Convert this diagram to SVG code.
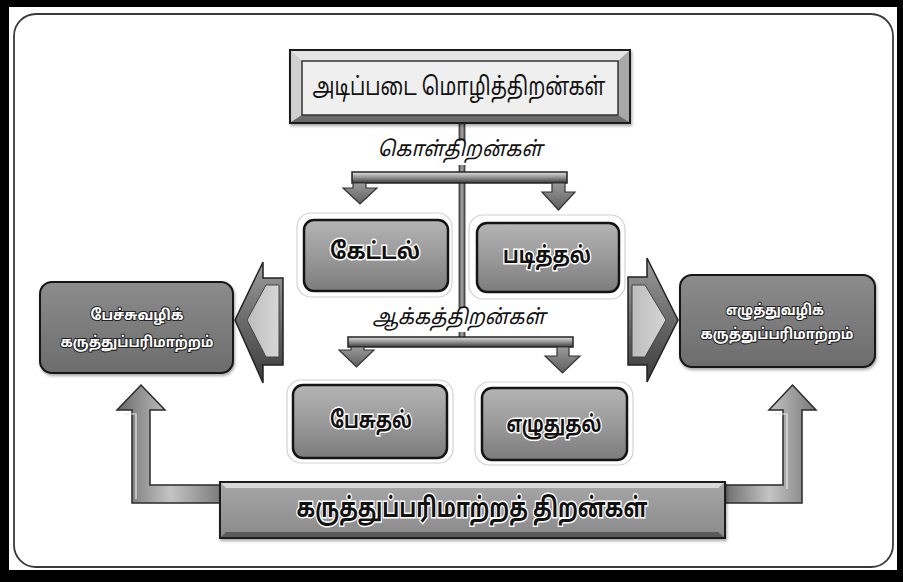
<svg xmlns="http://www.w3.org/2000/svg" width="903" height="582" viewBox="0 0 903 582">
  <defs>
    <linearGradient id="boxFill" x1="0" y1="0" x2="0" y2="1">
      <stop offset="0" stop-color="#b4b4b4"/>
      <stop offset="0.5" stop-color="#9a9a9a"/>
      <stop offset="1" stop-color="#7c7c7c"/>
    </linearGradient>
    <linearGradient id="sideFill" x1="0" y1="0" x2="0" y2="1">
      <stop offset="0" stop-color="#8c8c8c"/>
      <stop offset="1" stop-color="#6c6c6c"/>
    </linearGradient>
    <linearGradient id="barFill" x1="0" y1="0" x2="0" y2="1">
      <stop offset="0" stop-color="#e2e2e2"/>
      <stop offset="0.45" stop-color="#9a9a9a"/>
      <stop offset="1" stop-color="#3c3c3c"/>
    </linearGradient>
    <linearGradient id="stemFill" x1="0" y1="0" x2="1" y2="0">
      <stop offset="0" stop-color="#4a4a4a"/>
      <stop offset="0.5" stop-color="#a8a8a8"/>
      <stop offset="1" stop-color="#4a4a4a"/>
    </linearGradient>
    <linearGradient id="downFill" x1="0" y1="0" x2="0" y2="1">
      <stop offset="0" stop-color="#9a9a9a"/>
      <stop offset="1" stop-color="#5e5e5e"/>
    </linearGradient>
    <linearGradient id="chevOuter" x1="0" y1="0" x2="0" y2="1">
      <stop offset="0" stop-color="#9c9c9c"/>
      <stop offset="0.5" stop-color="#6a6a6a"/>
      <stop offset="1" stop-color="#3a3a3a"/>
    </linearGradient>
    <linearGradient id="chevInner" x1="0" y1="0" x2="1" y2="0">
      <stop offset="0" stop-color="#bdbdbd"/>
      <stop offset="1" stop-color="#d6d6d6"/>
    </linearGradient>
    <linearGradient id="upFill" x1="0" y1="0" x2="1" y2="0">
      <stop offset="0" stop-color="#6a6a6a"/>
      <stop offset="0.5" stop-color="#c4c4c4"/>
      <stop offset="1" stop-color="#777777"/>
    </linearGradient>
    <linearGradient id="bottomFill" x1="0" y1="0" x2="0" y2="1">
      <stop offset="0" stop-color="#a6a6a6"/>
      <stop offset="1" stop-color="#8a8a8a"/>
    </linearGradient>
    <filter id="shadow" x="-10%" y="-10%" width="120%" height="130%">
      <feDropShadow dx="1" dy="2" stdDeviation="1.5" flood-color="#000" flood-opacity="0.35"/>
    </filter>
  </defs>
  <style>
    text { text-anchor: middle; dominant-baseline: central; font-family: "Noto Sans Tamil", "Noto Sans", "Liberation Sans", sans-serif; }
    .title { font-size: 25px; fill: #111; }
    .label { font-size: 21px; font-style: italic; fill: #111; }
    .mid { font-size: 23px; font-weight: bold; fill: #111; stroke: #fff; stroke-width: 3; paint-order: stroke; }
    .side { font-size: 15px; font-weight: bold; fill: #fff; stroke: #222; stroke-width: 2.2; paint-order: stroke; }
    .big { font-size: 27px; font-weight: bold; fill: #111; stroke: #fff; stroke-width: 3; paint-order: stroke; }
    .halo { fill: #fff; stroke: #d2d2d2; stroke-width: 1.2; }
    .face { fill: url(#boxFill); stroke: #141414; stroke-width: 2.5; }
    .sideface { fill: url(#sideFill); stroke: #141414; stroke-width: 2; }
    .bar { fill: url(#barFill); stroke: #222; stroke-width: 1.5; }
    .down { fill: url(#downFill); stroke: #333; stroke-width: 1.2; }
    .chev { fill: url(#chevOuter); stroke: #222; stroke-width: 1.5; }
    .chevin { fill: url(#chevInner); stroke: #444; stroke-width: 1; }
    .up { fill: url(#upFill); stroke: #2a2a2a; stroke-width: 1.5; }
  </style>

  <!-- page frame -->
  <rect x="0" y="0" width="903" height="582" fill="#000"/>
  <rect x="9" y="7" width="888" height="563" fill="#fff"/>
  <rect x="14" y="14" width="879" height="553" rx="22" fill="#fff" stroke="#3a3a3a" stroke-width="1.8"/>

  <!-- connectors -->
  <g id="connectors">
    <!-- central trunk -->
    <rect x="459" y="122" width="6" height="216" fill="url(#stemFill)" stroke="#333" stroke-width="0.8"/>
    <!-- receptive skills branch -->
    <rect class="bar" x="352" y="172" width="215" height="11"/>
    <polygon class="down" points="353,183 366,183 366,188 377,188 360,204 343,188 353,188"/>
    <polygon class="down" points="552,183 565,183 565,192 575,192 558.5,210 542,192 552,192"/>
    <!-- productive skills branch -->
    <rect class="bar" x="348" y="337" width="225" height="10"/>
    <polygon class="down" points="351,347 364,347 364,350 374,350 356.5,367 339,350 351,350"/>
    <polygon class="down" points="557,347 569,347 569,356 580,356 562.5,373 545,356 557,356"/>
    <!-- block arrows towards the side boxes -->
    <polygon class="chev" points="235,320 263,262 263,278 283,278 283,365 263,365 263,383"/>
    <polygon class="chevin" points="247,320 266,285 279,285 279,357 266,357"/>
    <polygon class="chev" points="628,277 647,277 647,258 678,320 647,382 647,365 628,365"/>
    <polygon class="chevin" points="632,285 645,285 666,320 645,357 632,357"/>
    <!-- elbow arrows from the bottom bar -->
    <polygon class="up" points="224,503 132,503 132,410 117,410 141,385 165,410 150,410 150,485 224,485"/>
    <polyline points="136,499 136,414 124,414" fill="none" stroke="#e8e8e8" stroke-width="1.2"/>
    <polygon class="up" points="723,485 783,485 783,410 769,410 792.5,385 816,410 802,410 802,503 723,503"/>
    <polyline points="787,489 787,414 775,414" fill="none" stroke="#e8e8e8" stroke-width="1.2"/>
  </g>

  <!-- top node -->
  <g id="basic-skills">
    <rect x="290" y="50" width="340" height="73" fill="#bdbdbd" stroke="#1a1a1a" stroke-width="2" filter="url(#shadow)"/>
    <polygon points="291,51 629,51 618,61 302,61" fill="#e4e4e4"/>
    <polygon points="291,51 302,61 302,115 291,122" fill="#d0d0d0"/>
    <polygon points="629,51 629,122 618,115 618,61" fill="#a8a8a8"/>
    <polygon points="291,122 302,115 618,115 629,122" fill="#6a6a6a"/>
    <rect x="302" y="61" width="316" height="54" fill="#efefef" stroke="#333" stroke-width="1.5"/>
    <text class="title" x="459" y="88" textLength="293" lengthAdjust="spacingAndGlyphs">அடிப்படை மொழித்திறன்கள்</text>
  </g>

  <!-- branch labels -->
  <g id="receptive-label">
    <rect x="376" y="141" width="170" height="24" fill="#fff"/>
    <text class="label" x="460" y="151" textLength="165" lengthAdjust="spacingAndGlyphs">கொள்திறன்கள்</text>
  </g>
  <g id="productive-label">
    <rect x="370" y="308" width="178" height="24" fill="#fff"/>
    <text class="label" x="459" y="319" textLength="173" lengthAdjust="spacingAndGlyphs">ஆக்கத்திறன்கள்</text>
  </g>

  <!-- skill nodes -->
  <g id="listening">
    <rect class="halo" x="297" y="213" width="155" height="84" rx="14"/>
    <rect class="face" x="304" y="220" width="144" height="71" rx="10"/>
    <text class="mid" x="375" y="253" textLength="90" lengthAdjust="spacingAndGlyphs">கேட்டல்</text>
  </g>
  <g id="reading">
    <rect class="halo" x="469" y="215" width="156" height="84" rx="14"/>
    <rect class="face" x="477" y="223" width="142" height="69" rx="10"/>
    <text class="mid" x="547" y="257" textLength="88" lengthAdjust="spacingAndGlyphs">படித்தல்</text>
  </g>
  <g id="speaking">
    <rect class="halo" x="287" y="380" width="166" height="83" rx="14"/>
    <rect class="face" x="293" y="385" width="154" height="73" rx="10"/>
    <text class="mid" x="371" y="422" textLength="82" lengthAdjust="spacingAndGlyphs">பேசுதல்</text>
  </g>
  <g id="writing">
    <rect class="halo" x="475" y="382" width="158" height="83" rx="14"/>
    <rect class="face" x="482" y="388" width="145" height="72" rx="10"/>
    <text class="mid" x="554" y="426" textLength="95" lengthAdjust="spacingAndGlyphs">எழுதுதல்</text>
  </g>

  <!-- side nodes -->
  <g id="oral-communication">
    <rect class="sideface" x="40" y="282" width="193" height="91" rx="12" filter="url(#shadow)"/>
    <text class="side" x="137" y="316" textLength="93" lengthAdjust="spacingAndGlyphs">பேச்சுவழிக்</text>
    <text class="side" x="137" y="343" textLength="153" lengthAdjust="spacingAndGlyphs">கருத்துப்பரிமாற்றம்</text>
  </g>
  <g id="written-communication">
    <rect class="sideface" x="680" y="275" width="195" height="92" rx="12" filter="url(#shadow)"/>
    <text class="side" x="775" y="311" textLength="98" lengthAdjust="spacingAndGlyphs">எழுத்துவழிக்</text>
    <text class="side" x="777" y="335" textLength="153" lengthAdjust="spacingAndGlyphs">கருத்துப்பரிமாற்றம்</text>
  </g>

  <!-- bottom node -->
  <g id="communication-skills">
    <rect x="220" y="482" width="505" height="56" fill="url(#bottomFill)" stroke="#1e1e1e" stroke-width="2" filter="url(#shadow)"/>
    <polygon points="221,483 724,483 718,488 226,488" fill="#d8d8d8"/>
    <polygon points="221,537 226,532 718,532 724,537" fill="#5a5a5a"/>
    <text class="big" x="472" y="510" textLength="351" lengthAdjust="spacingAndGlyphs">கருத்துப்பரிமாற்றத் திறன்கள்</text>
  </g>
</svg>
